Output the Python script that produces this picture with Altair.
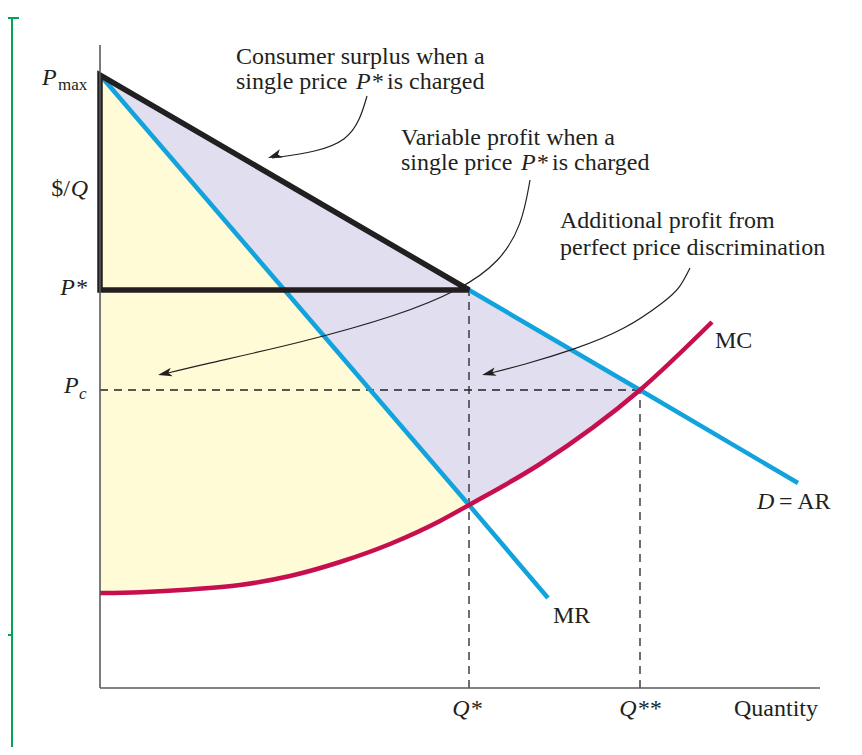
import altair as alt
import pandas as pd
import numpy as np

# ---------------- values (diagram units) ----------------
P_MAX, P_STAR, P_C = 613, 398, 298
Q_STAR, Q_2STAR = 369, 540

demand_q = [0, 369, 540, 698]
demand_p = [613, 398, 298, 205]
mr_q = [0, 369, 448]
mr_p = [613, 183, 90]
mc_q = [0, 40, 90, 140, 190, 240, 290, 340, 369, 440, 540, 612]
mc_p = [95, 95.8, 98.5, 103, 112, 126, 144, 167, 183, 224, 298, 366]

AXIS_Q_END, AXIS_P_END = 720, 643

# annotation arrows (curve points) and arrow tips
arrow1 = [(267, 592), (260, 568), (247, 548), (217, 536), (172, 530)]
arrow2 = [(430, 508), (422, 463), (400, 426), (360, 398), (300, 373), (200, 345), (100, 323), (64, 314)]
arrow3 = [(590, 420), (580, 400), (567, 388), (525, 358), (473, 338), (423, 323), (387, 314)]
tips = [(168, 530, 251), (58, 313, 258), (382, 313, 256)]

# ---------------- styles ----------------
FONT = "Liberation Serif"
INK = "#231f20"
BLUE = "#12a3dd"
RED = "#c70f4f"
YELLOW = "#fffbd6"
LAVENDER = "#e1def0"
GREEN = "#00a651"
FS = 24
SUB = 17

xs = alt.Scale(domain=[-92, 754], nice=False, zero=False)
ys = alt.Scale(domain=[-59, 680], nice=False, zero=False)


def X(f="x"):
    return alt.X(f"{f}:Q", scale=xs, axis=None)


def Y(f="y"):
    return alt.Y(f"{f}:Q", scale=ys, axis=None)


# ---------------- areas ----------------
yq = [q for q in mc_q if q <= Q_STAR]
yellow = pd.DataFrame({"x": yq, "y": [mc_p[mc_q.index(q)] for q in yq],
                       "y2": np.interp(yq, mr_q, mr_p)})
lavA = pd.DataFrame({"x": [0, Q_STAR], "y": np.interp([0, Q_STAR], mr_q, mr_p),
                     "y2": np.interp([0, Q_STAR], demand_q, demand_p)})
lq = [q for q in mc_q if Q_STAR <= q <= Q_2STAR]
lavB = pd.DataFrame({"x": lq, "y": [mc_p[mc_q.index(q)] for q in lq],
                     "y2": np.interp(lq, demand_q, demand_p)})

area_y = alt.Chart(yellow).mark_area(color=YELLOW, interpolate="monotone").encode(
    x=X(), y=Y(), y2="y2:Q")
area_a = alt.Chart(lavA).mark_area(color=LAVENDER).encode(x=X(), y=Y(), y2="y2:Q")
area_b = alt.Chart(lavB).mark_area(color=LAVENDER, interpolate="monotone").encode(
    x=X(), y=Y(), y2="y2:Q")

# ---------------- dashed guides ----------------
vd = pd.DataFrame({"x": [Q_STAR, Q_2STAR], "y": [0, 0], "y2": [P_STAR, P_C]})
hd = pd.DataFrame({"x": [0], "x2": [Q_2STAR], "y": [P_C]})
dash_v = alt.Chart(vd).mark_rule(color="#222222", strokeWidth=1.3, strokeDash=[8, 6]).encode(
    x=X(), y=Y(), y2="y2:Q")
dash_h = alt.Chart(hd).mark_rule(color="#222222", strokeWidth=1.3, strokeDash=[8, 6]).encode(
    x=X(), x2="x2:Q", y=Y())

# ---------------- axes ----------------
ax_df = pd.DataFrame({"x": [0, 0], "x2": [AXIS_Q_END, 0], "y": [0, 0], "y2": [0, AXIS_P_END]})
axes = alt.Chart(ax_df).mark_rule(color="#5a5a5a", strokeWidth=1.6).encode(
    x=X(), x2="x2:Q", y=Y(), y2="y2:Q")

# ---------------- curves ----------------
d_df = pd.DataFrame({"x": demand_q, "y": demand_p})
mr_df = pd.DataFrame({"x": mr_q, "y": mr_p})
mc_df = pd.DataFrame({"x": mc_q, "y": mc_p})
dline = alt.Chart(d_df).mark_line(color=BLUE, strokeWidth=4.5).encode(x=X(), y=Y())
mrline = alt.Chart(mr_df).mark_line(color=BLUE, strokeWidth=4.5).encode(x=X(), y=Y())
mcline = alt.Chart(mc_df).mark_line(color=RED, strokeWidth=4.5, interpolate="monotone").encode(
    x=X(), y=Y())

tri = pd.DataFrame({"x": [0, 0, Q_STAR, 0, 0], "y": [P_STAR, P_MAX, P_STAR, P_STAR, P_MAX],
                    "o": [0, 1, 2, 3, 4]})
triline = alt.Chart(tri).mark_line(color=INK, strokeWidth=5.5, strokeJoin="miter",
                                   strokeMiterLimit=2.5).encode(x=X(), y=Y(), order="o:Q")

# ---------------- annotation arrows ----------------
rows = []
for i, arr in enumerate([arrow1, arrow2, arrow3]):
    for j, (a, b) in enumerate(arr):
        rows.append({"x": a, "y": b, "id": i, "o": j})
arr_df = pd.DataFrame(rows)
arrows = alt.Chart(arr_df).mark_line(color=INK, strokeWidth=1.2, interpolate="basis").encode(
    x=X(), y=Y(), detail="id:N", order="o:Q")

R = 7
hr = []
for (a, b, ang) in tips:
    t = np.radians(ang)
    dx, dy = np.sin(t), np.cos(t)  # screen direction: dx right, dy up
    hr.append({"x": a - R * dx, "y": b - R * dy, "ang": ang})
head_df = pd.DataFrame(hr)
heads = alt.Chart(head_df).mark_point(
    shape="M0,-1L0.62,1L0,0.5L-0.62,1Z", filled=True, color=INK, opacity=1, size=(2 * R) ** 2,
    strokeWidth=0).encode(x=X(), y=Y(), angle=alt.Angle("ang:Q", scale=None))

# ---------------- text ----------------
normal_left = pd.DataFrame([
    {"x": 136, "y": 624, "t": "Consumer surplus when a"},
    {"x": 136, "y": 599, "t": "single price"},
    {"x": 287, "y": 599, "t": "is charged"},
    {"x": 301, "y": 543, "t": "Variable profit when a"},
    {"x": 301, "y": 518, "t": "single price"},
    {"x": 452, "y": 518, "t": "is charged"},
    {"x": 460, "y": 460, "t": "Additional profit from"},
    {"x": 460, "y": 433, "t": "perfect price discrimination"},
    {"x": 615, "y": 340, "t": "MC"},
    {"x": 679, "y": 179, "t": "= AR"},
    {"x": 453, "y": 65, "t": "MR"},
])
italic_left = pd.DataFrame([
    {"x": 256, "y": 599, "t": "P*"},
    {"x": 421, "y": 518, "t": "P*"},
    {"x": -58, "y": 603, "t": "P"},
    {"x": -36, "y": 295, "t": "P"},
    {"x": 657, "y": 179, "t": "D"},
])
sub_normal = pd.DataFrame([{"x": -42, "y": 598, "t": "max"}])
sub_italic = pd.DataFrame([{"x": -21, "y": 289, "t": "c"}])
normal_right = pd.DataFrame([
    {"x": 718, "y": -28, "t": "Quantity"},
    {"x": -30, "y": 492, "t": "$/"},
])
italic_right = pd.DataFrame([
    {"x": -12, "y": 492, "t": "Q"},
    {"x": -13, "y": 393, "t": "P*"},
])
italic_center = pd.DataFrame([
    {"x": 367, "y": -28, "t": "Q*"},
    {"x": 540, "y": -28, "t": "Q**"},
])


def txt(df, align="left", italic=False, size=FS):
    kw = dict(font=FONT, color=INK, baseline="alphabetic", align=align, fontSize=size)
    if italic:
        kw["fontStyle"] = "italic"
    return alt.Chart(df).mark_text(**kw).encode(x=X(), y=Y(), text="t:N")


texts = [
    txt(normal_left),
    txt(italic_left, italic=True),
    txt(sub_normal, size=SUB),
    txt(sub_italic, italic=True, size=SUB),
    txt(normal_right, align="right"),
    txt(italic_right, align="right", italic=True),
    txt(italic_center, align="center", italic=True),
]

# ---------------- green bracket at the left edge ----------------
g_df = pd.DataFrame({"x": [-88, -95, -92], "x2": [-88, -81, -88],
                     "y": [670, 670, 53], "y2": [-59, 670, 53]})
green = alt.Chart(g_df).mark_rule(color=GREEN, strokeWidth=2, clip=True).encode(
    x=X(), x2="x2:Q", y=Y(), y2="y2:Q")

chart = alt.layer(
    area_y, area_a, area_b, dash_v, dash_h, dline, mrline, mcline, triline, axes,
    arrows, heads, *texts, green
).properties(
    width=846, height=739, padding=0, autosize=alt.AutoSizeParams(type="none")
).configure_view(strokeWidth=0)

chart.save("out.html", embed_options={"renderer": "svg", "actions": False})
